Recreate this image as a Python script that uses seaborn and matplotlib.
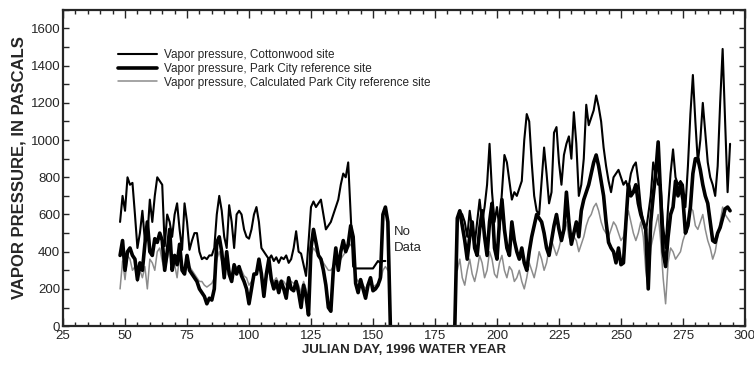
import numpy as np
import matplotlib
matplotlib.use("Agg")
import matplotlib.pyplot as plt
from matplotlib.ticker import MultipleLocator
import seaborn as sns

# Vapor pressure readings (Pa), one value per day
cotton_left_start = 48
cotton_left = [560, 700, 620, 800, 760, 770, 600, 420, 500, 620,
               460, 480, 680, 560, 700, 800, 780, 760, 430, 600,
               560, 480, 600, 660, 520, 410, 660, 560, 410, 460,
               500, 500, 400, 360, 370, 360, 380, 380, 420, 600,
               700, 620, 480, 420, 650, 560, 420, 600, 620, 600,
               520, 480, 470, 520, 600, 640, 560, 420, 400, 380,
               360, 380, 350, 370, 340, 370, 360, 380, 340, 360,
               420, 510, 400, 390, 330, 270, 450, 640, 670, 640,
               660, 680, 600, 520, 540, 560, 600, 640, 680, 760,
               820, 800, 880, 600, 320, 310, 310, 310, 310, 310,
               310, 310, 310, 330, 350, 340, 350, 350]
park_left_start = 48
park_left = [380, 460, 300, 400, 420, 380, 360, 250, 340, 300,
             440, 560, 400, 380, 470, 450, 500, 460, 300, 400,
             520, 300, 380, 330, 440, 300, 280, 380, 300, 280,
             260, 240, 200, 180, 160, 120, 150, 140, 200, 450,
             480, 400, 260, 400, 280, 240, 330, 280, 320, 270,
             240, 200, 120, 200, 280, 280, 360, 280, 160, 280,
             360, 250, 200, 240, 180, 240, 200, 150, 260, 200,
             190, 240, 180, 100, 220, 160, 60, 420, 520, 450,
             380, 360, 300, 220, 100, 80, 300, 420, 300, 400,
             460, 400, 440, 540, 480, 230, 180, 250, 200, 150,
             220, 260, 190, 200, 220, 260, 600, 640, 560, 0]
calc_left_start = 48
calc_left = [200, 350, 250, 380, 360, 300, 320, 240, 300, 260,
             320, 200, 360, 340, 300, 400, 420, 350, 300, 360,
             420, 300, 330, 260, 380, 320, 300, 340, 320, 300,
             280, 260, 240, 240, 220, 210, 220, 230, 260, 360,
             400, 350, 290, 320, 300, 280, 300, 320, 320, 300,
             270, 260, 220, 240, 270, 300, 330, 280, 230, 260,
             300, 260, 240, 260, 230, 250, 240, 220, 250, 240,
             230, 240, 220, 180, 240, 200, 160, 380, 420, 400,
             380, 370, 340, 320, 300, 300, 320, 340, 330, 360,
             380, 400, 420, 440, 420, 260, 240, 250, 220, 200,
             230, 240, 210, 220, 230, 240, 300, 320, 300]

cotton_right_start = 184
cotton_right = [560, 620, 600, 560, 480, 620, 520, 440, 560, 680,
                560, 640, 760, 980, 720, 560, 640, 520, 720, 920,
                880, 780, 680, 720, 700, 740, 780, 1000, 1140, 1100,
                880, 700, 620, 600, 780, 960, 820, 660, 720, 1040,
                1070, 880, 760, 920, 980, 1020, 900, 1150, 980, 700,
                760, 900, 1190, 1080, 1120, 1160, 1240, 1180, 1100, 960,
                860, 780, 720, 800, 820, 840, 800, 760, 780, 740,
                820, 860, 880, 780, 640, 560, 500, 600, 700, 880,
                820, 760, 760, 540, 420, 640, 820, 950, 800, 760,
                780, 760, 640, 860, 1140, 1350, 1100, 880, 1000, 1200,
                1040, 880, 800, 760, 700, 860, 1200, 1490, 1100, 720,
                980]
park_right_start = 183
park_right = [0, 580, 620, 540, 460, 360, 480, 560, 420, 380,
              520, 620, 480, 380, 560, 660, 420, 360, 560, 680,
              520, 420, 380, 560, 460, 400, 360, 420, 340, 300,
              400, 480, 540, 600, 580, 560, 500, 420, 380, 460,
              540, 600, 520, 460, 520, 720, 560, 440, 500, 560,
              480, 620, 680, 720, 760, 820, 880, 920, 860, 780,
              700, 560, 450, 420, 400, 340, 420, 330, 340, 560,
              760, 700, 720, 760, 660, 600, 560, 520, 200, 560,
              700, 820, 990, 700, 400, 320, 480, 600, 640, 780,
              700, 760, 680, 500, 540, 640, 820, 900, 900, 840,
              760, 700, 660, 560, 460, 450, 500, 530, 580, 630,
              640, 620]
calc_right_start = 184
calc_right = [300, 360, 260, 220, 300, 360, 280, 240, 300, 380,
              340, 260, 300, 400, 360, 280, 260, 340, 380, 300,
              260, 320, 300, 240, 260, 300, 240, 200, 260, 340,
              300, 260, 320, 400, 360, 300, 340, 420, 460, 420,
              380, 420, 480, 500, 560, 480, 440, 480, 460, 400,
              440, 480, 540, 580, 600, 640, 660, 620, 560, 520,
              500, 480, 520, 560, 540, 500, 460, 480, 560, 620,
              560, 500, 460, 500, 560, 480, 300, 200, 420, 480,
              540, 600, 460, 260, 120, 340, 420, 400, 360, 380,
              400, 460, 500, 560, 640, 620, 540, 520, 560, 600,
              520, 460, 420, 360, 400, 480, 560, 640, 600, 580,
              560]

labels = ["Vapor pressure, Cottonwood site",
          "Vapor pressure, Park City reference site",
          "Vapor pressure, Calculated Park City reference site"]

sns.set_style("ticks")
plt.rcParams['font.family'] = ['Liberation Sans', 'DejaVu Sans']

fig = plt.figure(figsize=(7.54, 3.66), dpi=100)
ax = fig.add_axes([0.0836, 0.109, 0.9044, 0.864])


def seg(start, vals):
    return np.arange(start, start + len(vals)), np.array(vals)


# calculated (thin grey) first so the black lines sit on top
for i, (s, v) in enumerate([(calc_left_start, calc_left), (calc_right_start, calc_right)]):
    x, y = seg(s, v)
    sns.lineplot(x=x, y=y, ax=ax, color="#8c8c8c", linewidth=1.1,
                 label=labels[2] if i == 0 else None, legend=False)
for i, (s, v) in enumerate([(cotton_left_start, cotton_left), (cotton_right_start, cotton_right)]):
    x, y = seg(s, v)
    sns.lineplot(x=x, y=y, ax=ax, color="black", linewidth=1.5,
                 label=labels[0] if i == 0 else None, legend=False)
for i, (s, v) in enumerate([(park_left_start, park_left), (park_right_start, park_right)]):
    x, y = seg(s, v)
    sns.lineplot(x=x, y=y, ax=ax, color="black", linewidth=2.6,
                 label=labels[1] if i == 0 else None, legend=False)

ax.text(158.5, 505, "No", fontsize=9.5, va="center")
ax.text(158.5, 420, "Data", fontsize=9.5, va="center")

ax.set_xlim(25, 300)
ax.set_ylim(0, 1700)
ax.xaxis.set_major_locator(MultipleLocator(25))
ax.xaxis.set_minor_locator(MultipleLocator(5))
ax.yaxis.set_major_locator(MultipleLocator(200))
ax.yaxis.set_minor_locator(MultipleLocator(100))
ax.tick_params(which="both", direction="in", top=True, right=True, labelsize=9.5, width=1)
ax.tick_params(axis="x", which="major", length=6, pad=3)
ax.tick_params(axis="x", which="minor", length=3)
ax.tick_params(axis="y", which="both", length=4.5, pad=2)
for sp in ax.spines.values():
    sp.set_linewidth(1.6)
ax.set_yticks(np.arange(0, 1601, 200))

ax.set_xlabel("JULIAN DAY, 1996 WATER YEAR", fontsize=9.5, fontweight="bold", labelpad=1)
ax.set_ylabel("VAPOR PRESSURE, IN PASCALS", fontsize=12, fontweight="bold", labelpad=3)

h, l = ax.get_legend_handles_labels()
order = [l.index(t) for t in labels]
ax.legend([h[k] for k in order], [l[k] for k in order], loc="upper left",
          bbox_to_anchor=(0.065, 0.91), frameon=False, fontsize=8.5,
          handlelength=3.3, labelspacing=0.15, handletextpad=0.6)

fig.savefig("out.png", dpi=100)
